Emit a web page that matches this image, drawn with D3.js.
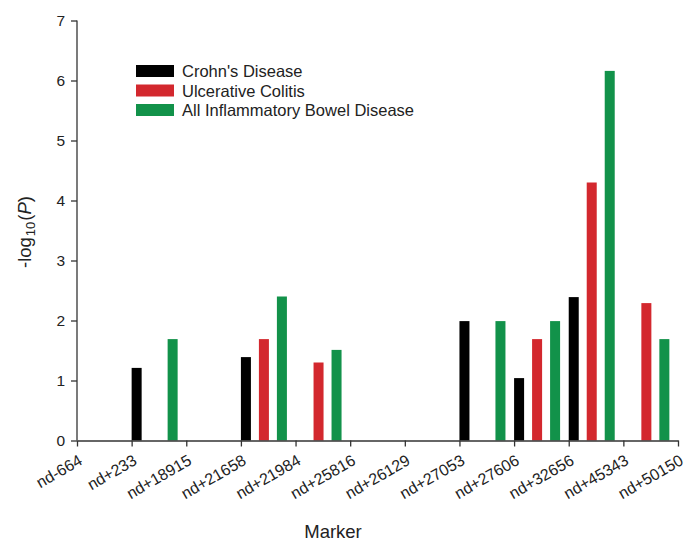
<!DOCTYPE html>
<html>
<head>
<meta charset="utf-8">
<script src="https://cdn.jsdelivr.net/npm/d3@7"></script>
<style>
  html, body { margin: 0; padding: 0; background: #ffffff; }
  text { font-family: "Liberation Sans", Arial, sans-serif; fill: #222; }
</style>
</head>
<body>
<svg id="chart" width="687" height="542"></svg>
<script>
const markers = ["nd-664","nd+233","nd+18915","nd+21658","nd+21984","nd+25816","nd+26129","nd+27053","nd+27606","nd+32656","nd+45343","nd+50150"];
const seriesNames = ["Crohn's Disease","Ulcerative Colitis","All Inflammatory Bowel Disease"];
const crohns = [null,1.21,null,1.39,null,null,null,1.99,1.04,2.39,null,null];
const ulcerative = [null,null,null,1.69,1.30,null,null,null,1.69,4.30,2.29,null];
const allIBD = [null,1.69,null,2.40,1.51,null,null,1.99,1.99,6.16,1.69,null];
const yTicks = [0,1,2,3,4,5,6,7];
const colors = ["#000000","#d3282e","#12924a"];

const seriesValues = [crohns, ulcerative, allIBD];
const svg = d3.select("#chart");

const x = d3.scalePoint().domain(markers).range([77, 678]);
const y = d3.scaleLinear().domain([0, 7]).range([440.5, 20.5]);
const sub = d3.scaleBand().domain(seriesNames).range([0, 46]).paddingInner(0.444).paddingOuter(0).align(0);

// bars
const barData = [];
seriesNames.forEach((s, si) => {
  markers.forEach((m, mi) => {
    const v = seriesValues[si][mi];
    if (v !== null && v !== undefined) barData.push({series: s, si, marker: m, value: v});
  });
});
svg.append("g").selectAll("rect").data(barData).join("rect")
  .attr("x", d => x(d.marker) + sub(d.series))
  .attr("width", sub.bandwidth())
  .attr("y", d => y(d.value))
  .attr("height", d => y(0) - y(d.value))
  .attr("fill", d => colors[d.si]);

// y axis
const yAxis = svg.append("g").attr("transform", "translate(77,0)")
  .call(d3.axisLeft(y).tickValues(yTicks).tickFormat(d3.format("d")).tickSize(6).tickPadding(6));
yAxis.selectAll("text").style("font-size", "15.5px").style("font-family", "'Liberation Sans', Arial, sans-serif").attr("fill", "#222");
yAxis.select(".domain").attr("stroke", "#333").attr("stroke-width", 1.3).attr("d", `M0,${y(7)}V${y(0)}`);
yAxis.selectAll(".tick line").attr("stroke", "#333").attr("stroke-width", 1.3);

// x axis (ticks only; labels drawn below from the same scale)
const xAxis = svg.append("g").attr("transform", `translate(0,${y(0)})`)
  .call(d3.axisBottom(x).tickSize(6).tickSizeOuter(0).tickFormat(""));
xAxis.select(".domain").attr("stroke", "#333").attr("stroke-width", 1.3);
xAxis.selectAll(".tick line").attr("stroke", "#333").attr("stroke-width", 1.3);

svg.append("g").selectAll("text").data(markers).join("text")
  .attr("transform", d => `translate(${x(d)},${y(0) + 12}) rotate(-30)`)
  .attr("text-anchor", "end")
  .attr("dy", "0.8em")
  .style("font-size", "16px")
  .text(d => d);

// axis titles
svg.append("text")
  .attr("x", 333).attr("y", 538)
  .attr("text-anchor", "middle")
  .style("font-size", "18.5px")
  .text("Marker");

const yt = svg.append("text")
  .attr("transform", "translate(31,232) rotate(-90)")
  .attr("text-anchor", "middle")
  .style("font-size", "18.5px");
yt.append("tspan").text("-log");
yt.append("tspan").attr("dy", 4).attr("dx", 1).style("font-size", "13px").text("10");
yt.append("tspan").attr("dy", -4).attr("dx", 1).text("(");
yt.append("tspan").style("font-style", "italic").text("P");
yt.append("tspan").text(")");

// legend
const legend = svg.append("g").attr("transform", "translate(136,65)");
const rows = legend.selectAll("g").data(seriesNames).join("g")
  .attr("transform", (d, i) => `translate(0,${i * 19.5})`);
rows.append("rect").attr("width", 38).attr("height", 12).attr("fill", (d, i) => colors[i]);
rows.append("text").attr("x", 46).attr("y", 12)
  .style("font-size", "16.5px")
  .text(d => d);
</script>
</body>
</html>
